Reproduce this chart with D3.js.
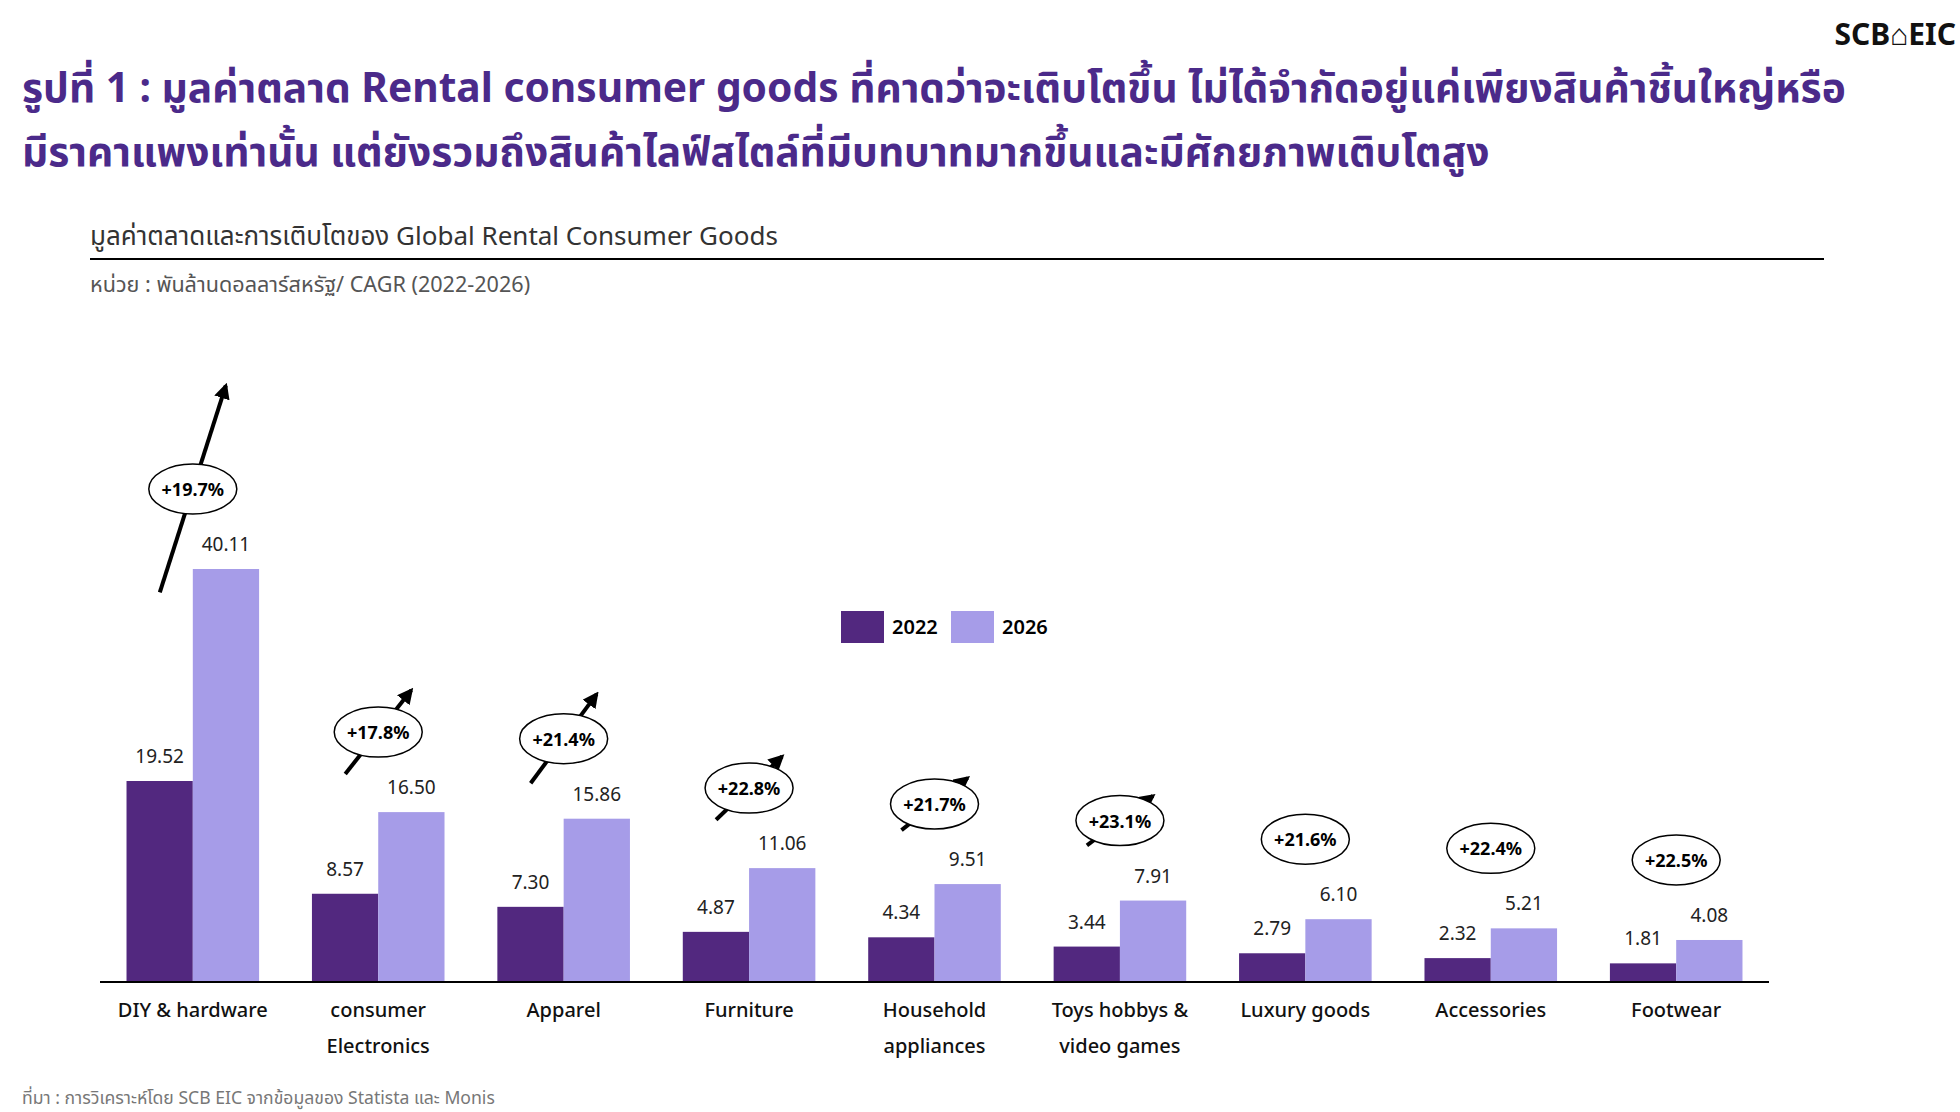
<!DOCTYPE html>
<html><head><meta charset="utf-8">
<script src="https://cdn.jsdelivr.net/npm/d3@7"></script>
<style>
body{margin:0;background:#fff;font-family:"Noto Sans","Noto Sans Thai",sans-serif;}
</style></head>
<body><svg id="chart" width="1960" height="1112"></svg>
<script>
// data
const categories = [["DIY & hardware"], ["consumer", "Electronics"], ["Apparel"], ["Furniture"],
  ["Household", "appliances"], ["Toys hobbys &", "video games"], ["Luxury goods"], ["Accessories"], ["Footwear"]];
const values2022 = [19.52, 8.57, 7.30, 4.87, 4.34, 3.44, 2.79, 2.32, 1.81];
const values2026 = [40.11, 16.50, 15.86, 11.06, 9.51, 7.91, 6.10, 5.21, 4.08];
const cagr = ["+19.7%", "+17.8%", "+21.4%", "+22.8%", "+21.7%", "+23.1%", "+21.6%", "+22.4%", "+22.5%"];
// arrow rise (in units of the horizontal run) for each CAGR badge, 0 = no arrow
const arrowSlope = [3.13, 1.27, 1.35, 0.96, 0.79, 0.75, 0, 0, 0];
const years = ["2022", "2026"];
const colors = ["#52287f", "#a69ce8"];

const svg = d3.select("#chart");

// header
svg.append("text").attr("x", 1956).attr("y", 45).attr("text-anchor", "end")
  .attr("font-size", 30).attr("font-weight", 700).attr("fill", "#111").text("SCB⌂EIC");

const title = svg.append("text").attr("font-size", 40.7).attr("font-weight", 700).attr("fill", "#4b2a8a");
title.append("tspan").attr("x", 22).attr("y", 102)
  .text("รูปที่ 1 : มูลค่าตลาด Rental consumer goods ที่คาดว่าจะเติบโตขึ้น ไม่ได้จำกัดอยู่แค่เพียงสินค้าชิ้นใหญ่หรือ");
title.append("tspan").attr("x", 22).attr("y", 166)
  .text("มีราคาแพงเท่านั้น แต่ยังรวมถึงสินค้าไลฟ์สไตล์ที่มีบทบาทมากขึ้นและมีศักยภาพเติบโตสูง");

svg.append("text").attr("x", 90).attr("y", 245).attr("font-size", 26).attr("fill", "#333")
  .text("มูลค่าตลาดและการเติบโตของ Global Rental Consumer Goods");
svg.append("line").attr("x1", 90).attr("x2", 1824).attr("y1", 259).attr("y2", 259)
  .attr("stroke", "#000").attr("stroke-width", 2);
svg.append("text").attr("x", 90).attr("y", 292).attr("font-size", 21.6).attr("fill", "#555")
  .text("หน่วย : พันล้านดอลลาร์สหรัฐ/ CAGR (2022-2026)");

// scales
const x0 = d3.scaleBand().domain(d3.range(categories.length)).range([100, 1769]).paddingInner(0.285).paddingOuter(0.143);
const x1 = d3.scaleBand().domain(years).range([0, x0.bandwidth()]);
const y = d3.scaleLinear().domain([0, 40.11]).range([982, 569]);

const g = svg.append("g");
const rows = categories.map((c, i) => ({ i, vals: [values2022[i], values2026[i]] }));

const groups = g.selectAll("g.grp").data(rows).enter().append("g")
  .attr("transform", d => `translate(${x0(d.i)},0)`);

groups.selectAll("rect").data(d => d.vals.map((v, k) => ({ v, k }))).enter().append("rect")
  .attr("x", d => x1(years[d.k])).attr("width", x1.bandwidth())
  .attr("y", d => y(d.v)).attr("height", d => y(0) - y(d.v))
  .attr("fill", d => colors[d.k]);

groups.selectAll("text.val").data(d => d.vals.map((v, k) => ({ v, k }))).enter().append("text")
  .attr("x", d => x1(years[d.k]) + x1.bandwidth() / 2).attr("y", d => y(d.v) - 18)
  .attr("text-anchor", "middle").attr("font-size", 19).attr("fill", "#222")
  .text(d => d.v.toFixed(2));

// axis
g.append("line").attr("x1", 100).attr("x2", 1769).attr("y1", y(0)).attr("y2", y(0))
  .attr("stroke", "#000").attr("stroke-width", 2);

groups.each(function (d) {
  const t = d3.select(this).append("text").attr("text-anchor", "middle")
    .attr("font-size", 20).attr("font-weight", 500).attr("fill", "#111");
  categories[d.i].forEach((line, j) => t.append("tspan").attr("x", x0.bandwidth() / 2)
    .attr("y", 1017 + j * 36).text(line));
});

// CAGR badges with arrows
svg.append("defs").append("marker").attr("id", "ah").attr("viewBox", "0 0 10 10")
  .attr("refX", 8).attr("refY", 5).attr("markerWidth", 4).attr("markerHeight", 4)
  .attr("orient", "auto").append("path").attr("d", "M0,0L10,5L0,10z").attr("fill", "#000");

groups.each(function (d) {
  const cx = x0.bandwidth() / 2, cy = y(values2026[d.i]) - 80;
  const s = d3.select(this);
  const run = 33;
  if (arrowSlope[d.i] > 0) {
    const rise = run * arrowSlope[d.i];
    s.append("line").attr("x1", cx - run).attr("y1", cy + rise).attr("x2", cx + run).attr("y2", cy - rise)
      .attr("stroke", "#000").attr("stroke-width", 4).attr("marker-end", "url(#ah)");
  }
  s.append("ellipse").attr("cx", cx).attr("cy", cy).attr("rx", 44).attr("ry", 25)
    .attr("fill", "#fff").attr("stroke", "#000").attr("stroke-width", 1.5);
  s.append("text").attr("x", cx).attr("y", cy + 7).attr("text-anchor", "middle")
    .attr("font-size", 18).attr("font-weight", 700).text(cagr[d.i]);
});

// legend
const leg = svg.append("g").attr("transform", "translate(841,611)");
years.forEach((yr, k) => {
  leg.append("rect").attr("x", k * 110).attr("width", 43).attr("height", 32).attr("fill", colors[k]);
  leg.append("text").attr("x", k * 110 + 51).attr("y", 23).attr("font-size", 20)
    .attr("font-weight", 600).text(yr);
});

svg.append("text").attr("x", 22).attr("y", 1104).attr("font-size", 17.6).attr("fill", "#777")
  .text("ที่มา : การวิเคราะห์โดย SCB EIC จากข้อมูลของ Statista และ Monis");
</script></body></html>
